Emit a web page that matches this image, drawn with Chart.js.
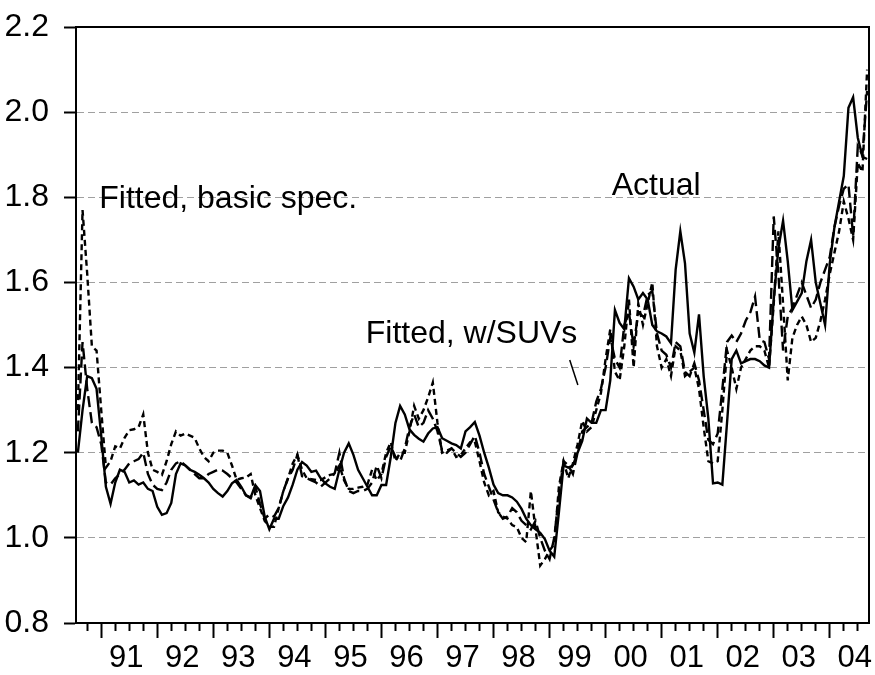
<!DOCTYPE html>
<html>
<head>
<meta charset="utf-8">
<script src="https://cdn.jsdelivr.net/npm/chart.js@4.4.1/dist/chart.umd.min.js"></script>
<style>
  html, body { margin: 0; padding: 0; background: #fff; }
  #chart { display: block; }
</style>
</head>
<body>
<canvas id="chart" width="875" height="675"></canvas>
<script>
// monthly observations, Aug 1990 .. Sep 2004
const startYear = 1990;
const startMonth = 8;

const actual = [
  1.20, 1.30, 1.38, 1.375, 1.35,
  1.24, 1.12, 1.08, 1.13, 1.16, 1.155, 1.13, 1.135, 1.125, 1.13, 1.115, 1.11,
  1.073, 1.054, 1.058, 1.082, 1.15, 1.175, 1.17, 1.16, 1.155, 1.148, 1.14, 1.13,
  1.115, 1.105, 1.097, 1.11, 1.128, 1.136, 1.12, 1.10, 1.095, 1.124, 1.11, 1.05,
  1.02, 1.045, 1.045, 1.075, 1.095, 1.125, 1.16, 1.178, 1.17, 1.155, 1.158, 1.14,
  1.128, 1.12, 1.115, 1.16, 1.20, 1.222, 1.195, 1.16, 1.14, 1.12, 1.10, 1.10,
  1.124, 1.124, 1.19, 1.27, 1.31, 1.29, 1.255, 1.242, 1.233, 1.226, 1.245, 1.257,
  1.26, 1.234, 1.228, 1.222, 1.218, 1.21, 1.25, 1.26, 1.272, 1.24, 1.20, 1.165,
  1.125, 1.105, 1.10, 1.10, 1.095, 1.085, 1.068, 1.045, 1.03, 1.02, 1.012, 0.997,
  0.97, 0.956, 1.06, 1.17, 1.165, 1.17, 1.20, 1.228, 1.28, 1.27, 1.27, 1.30,
  1.30, 1.37, 1.535, 1.505, 1.49, 1.61, 1.59, 1.56, 1.575, 1.56, 1.50, 1.485,
  1.48, 1.473, 1.457, 1.63, 1.72, 1.645, 1.48, 1.435, 1.525, 1.38, 1.28, 1.128,
  1.13, 1.125, 1.27, 1.42, 1.44, 1.41, 1.415, 1.42, 1.42, 1.415, 1.405, 1.40,
  1.56, 1.68, 1.745, 1.65, 1.535, 1.555, 1.575, 1.65, 1.70, 1.60, 1.55, 1.50,
  1.645, 1.73, 1.79, 1.85, 2.01, 2.035, 1.94, 1.895, 1.89
];

const fittedBasic = [
  1.30, 1.77, 1.62, 1.45, 1.44,
  1.30, 1.165, 1.18, 1.215, 1.21, 1.235, 1.253, 1.255, 1.26, 1.29, 1.20, 1.16,
  1.155, 1.148, 1.18, 1.22, 1.25, 1.24, 1.245, 1.24, 1.235, 1.21, 1.19, 1.18,
  1.20, 1.205, 1.205, 1.20, 1.17, 1.136, 1.14, 1.142, 1.15, 1.10, 1.07, 1.04,
  1.026, 1.026, 1.07, 1.11, 1.14, 1.175, 1.195, 1.16, 1.14, 1.138, 1.136, 1.136,
  1.142, 1.148, 1.15, 1.17, 1.135, 1.115, 1.115, 1.118, 1.12, 1.125, 1.16, 1.135,
  1.15, 1.20, 1.225, 1.18, 1.20, 1.20, 1.25, 1.31, 1.28, 1.30, 1.33, 1.365,
  1.27, 1.20, 1.205, 1.21, 1.19, 1.195, 1.21, 1.225, 1.226, 1.18, 1.13, 1.10,
  1.11, 1.06, 1.05, 1.045, 1.03, 1.025, 1.00, 0.99, 1.11, 1.02, 0.935, 0.95,
  0.97, 0.985, 1.12, 1.18, 1.14, 1.175, 1.22, 1.275, 1.25, 1.26, 1.30, 1.34,
  1.42, 1.49, 1.39, 1.37, 1.45, 1.56, 1.40, 1.55, 1.50, 1.55, 1.60, 1.45,
  1.40, 1.42, 1.38, 1.45, 1.44, 1.38, 1.39, 1.40, 1.35, 1.26, 1.18, 1.175,
  1.18, 1.30, 1.44, 1.40, 1.35, 1.40, 1.42, 1.44, 1.45, 1.45, 1.44, 1.40,
  1.55, 1.72, 1.55, 1.37, 1.47, 1.50, 1.52, 1.50, 1.46, 1.47, 1.51, 1.56,
  1.62, 1.67, 1.72, 1.79, 1.75, 1.70, 1.88, 1.86, 2.10
];

const fittedSUV = [
  1.25, 1.46, 1.35, 1.27, 1.26,
  1.22, 1.13, 1.125, 1.14, 1.15, 1.16, 1.175, 1.18, 1.185, 1.20, 1.15, 1.125,
  1.115, 1.112, 1.13, 1.16, 1.175, 1.18, 1.17, 1.16, 1.15, 1.14, 1.14, 1.15,
  1.155, 1.16, 1.158, 1.15, 1.14, 1.13, 1.115, 1.10, 1.093, 1.12, 1.08, 1.045,
  1.055, 1.05, 1.07, 1.11, 1.14, 1.16, 1.195, 1.145, 1.14, 1.135, 1.13, 1.12,
  1.13, 1.14, 1.152, 1.20, 1.14, 1.11, 1.105, 1.11, 1.11, 1.115, 1.13, 1.17,
  1.14, 1.19, 1.215, 1.19, 1.18, 1.21, 1.26, 1.29, 1.26, 1.27, 1.30, 1.28,
  1.25, 1.205, 1.20, 1.21, 1.20, 1.19, 1.20, 1.22, 1.24, 1.20, 1.15, 1.12,
  1.09, 1.06, 1.045, 1.05, 1.07, 1.06, 1.04, 1.03, 1.02, 1.04, 1.00, 0.97,
  0.95, 1.00, 1.10, 1.18, 1.17, 1.15, 1.20, 1.25, 1.26, 1.27, 1.32, 1.35,
  1.40, 1.47, 1.42, 1.40, 1.50, 1.53, 1.45, 1.53, 1.52, 1.57, 1.58, 1.48,
  1.44, 1.43, 1.40, 1.46, 1.45, 1.39, 1.38, 1.41, 1.37, 1.30, 1.23, 1.22,
  1.245, 1.35, 1.46, 1.475, 1.46, 1.48, 1.51, 1.53, 1.567, 1.465, 1.46, 1.42,
  1.755, 1.62, 1.44, 1.52, 1.54, 1.57, 1.60, 1.57, 1.54, 1.56, 1.60, 1.63,
  1.66, 1.73, 1.78, 1.82, 1.83, 1.71, 1.92, 1.90, 2.05
];

const firstLabelYear = 1991;
const yearLabels = ['91', '92', '93', '94', '95', '96', '97', '98', '99', '00', '01', '02', '03', '04'];

const FONT = '"Liberation Sans", Arial, sans-serif';

// decimal year of each monthly observation
const monthX = actual.map((_, i) => startYear + (startMonth - 1 + i) / 12);
const toPoints = vals => vals.map((v, i) => ({ x: monthX[i], y: v }));

// text labels placed on the plot, in data units
const notes = [
  { text: 'Fitted, basic spec.', x: 1990.965, y: 1.775 },
  { text: 'Actual', x: 2000.11, y: 1.805 },
  { text: 'Fitted, w/SUVs', x: 1995.72, y: 1.458 }
];

const framePlugin = {
  id: 'frameAndNotes',
  afterDatasetsDraw(chart) {
    const { ctx, chartArea: a, scales } = chart;
    const x = scales.x, y = scales.y;
    ctx.save();
    ctx.setLineDash([]);
    ctx.strokeStyle = '#000';
    ctx.lineWidth = 2;
    ctx.strokeRect(a.left, a.top, a.right - a.left, a.bottom - a.top);

    ctx.fillStyle = '#000';
    ctx.font = '32px ' + FONT;
    ctx.textAlign = 'left';
    ctx.textBaseline = 'alphabetic';
    notes.forEach(n => ctx.fillText(n.text, x.getPixelForValue(n.x), y.getPixelForValue(n.y)));

    // little pointer under "Fitted, w/SUVs"
    ctx.lineWidth = 1.5;
    ctx.beginPath();
    ctx.moveTo(x.getPixelForValue(1999.36), y.getPixelForValue(1.418));
    ctx.lineTo(x.getPixelForValue(1999.505), y.getPixelForValue(1.359));
    ctx.stroke();
    ctx.restore();
  }
};

function lineSet(label, vals, dash) {
  return {
    label: label,
    data: toPoints(vals),
    borderColor: '#000',
    borderWidth: 2.4,
    borderDash: dash,
    pointRadius: 0,
    tension: 0,
    fill: false
  };
}

new Chart(document.getElementById('chart'), {
  type: 'line',
  data: {
    datasets: [
      lineSet('Actual', actual, []),
      lineSet('Fitted, w/SUVs', fittedSUV, [11, 5]),
      lineSet('Fitted, basic spec.', fittedBasic, [6, 4])
    ]
  },
  options: {
    responsive: false,
    animation: false,
    devicePixelRatio: 1,
    layout: { padding: { top: 27, right: 6, bottom: 0, left: 0 } },
    plugins: { legend: { display: false }, tooltip: { enabled: false } },
    scales: {
      x: {
        type: 'linear',
        min: 1990.55,
        max: 2004.70,
        afterFit: s => { s.height = 52; s.paddingLeft = 0; s.paddingRight = 0; },
        afterBuildTicks: s => {
          const t = [];
          for (let q = Math.ceil(s.min * 4); q <= Math.floor(s.max * 4); q++) t.push({ value: q / 4 });
          s.ticks = t;
        },
        border: { display: true, color: '#000', width: 2 },
        grid: {
          drawOnChartArea: false,
          tickLength: 15,
          tickWidth: 2,
          tickColor: '#000',
          // quarters get a short mark, years a long one
          tickBorderDash: c => (c.tick && c.tick.value % 1 === 0) ? [] : [7, 100]
        },
        ticks: {
          autoSkip: false,
          maxRotation: 0,
          padding: 2,
          labelOffset: -3,
          color: '#000',
          font: { family: FONT, size: 31 },
          callback: v => {
            if (Math.abs(v % 1 - 0.5) > 1e-6) return '';
            return yearLabels[Math.floor(v) - firstLabelYear] || '';
          }
        }
      },
      y: {
        min: 0.8,
        max: 2.2,
        afterFit: s => { s.width = 76; s.paddingTop = 0; s.paddingBottom = 0; },
        border: { display: true, color: '#000', width: 2, dash: [7, 4] },
        grid: {
          color: '#a0a0a0',
          lineWidth: 1,
          tickLength: 12,
          tickWidth: 2,
          tickColor: '#000',
          tickBorderDash: []
        },
        ticks: {
          stepSize: 0.2,
          padding: 15,
          color: '#000',
          font: { family: FONT, size: 32 },
          callback: v => v.toFixed(1)
        }
      }
    }
  },
  plugins: [framePlugin]
});
</script>
</body>
</html>
